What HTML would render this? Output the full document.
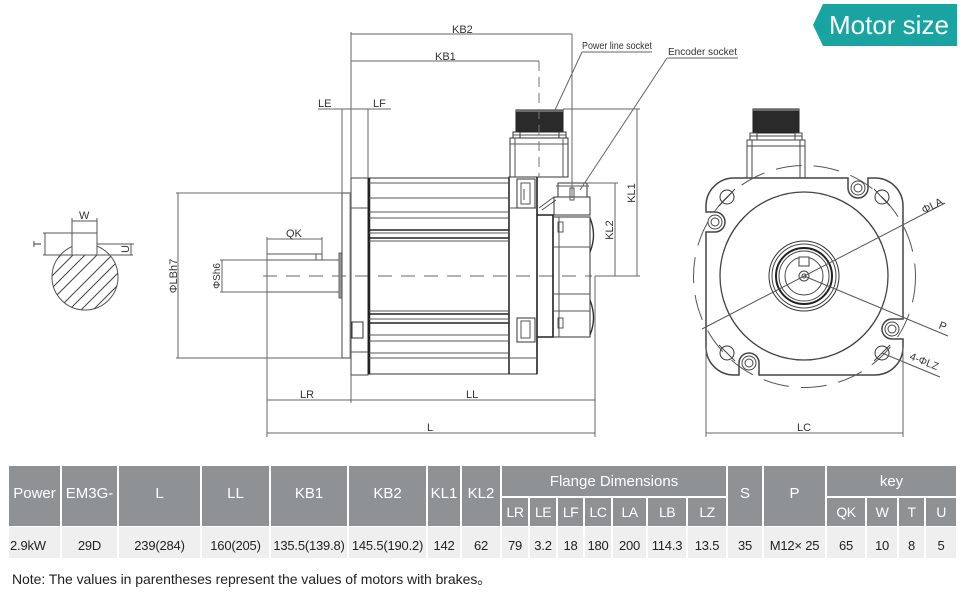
<!DOCTYPE html>
<html><head><meta charset="utf-8">
<style>
html,body{margin:0;padding:0;background:#fff;}
#wrap{position:relative;width:963px;height:602px;overflow:hidden;background:#fff;font-family:"Liberation Sans","Noto Sans CJK SC",sans-serif;}
svg{position:absolute;left:0;top:0;}
.c{position:absolute;display:flex;align-items:center;justify-content:center;box-sizing:border-box;white-space:nowrap;}
.h{background:#8f9295;color:#fff;font-size:15px;}
.h2{font-size:14px;letter-spacing:-0.5px;}
.d{background:#efefef;color:#222;font-size:13px;letter-spacing:-0.2px;padding-top:6px;}
.note{position:absolute;left:12px;top:569px;font-size:14px;color:#222;letter-spacing:-0.05px;white-space:nowrap;}
</style></head><body><div id="wrap">
<svg width="963" height="460" viewBox="0 0 963 460" xmlns="http://www.w3.org/2000/svg" font-family="Liberation Sans, sans-serif">
<!-- badge -->
<polygon points="823,4 957,4 957,46 823,46 813,25" fill="#19a4a2"/>
<text x="829" y="34" font-size="26" fill="#fff">Motor size</text>

<g stroke="#555" stroke-width="1" fill="none">
<!-- ===== key section ===== -->
<clipPath id="kc"><path d="M40,255 H140 V320 H40 Z"/></clipPath>
<clipPath id="hcirc"><circle cx="85" cy="277" r="33"/></clipPath>
<circle cx="85" cy="277" r="33"/>
<g clip-path="url(#kc)"><g clip-path="url(#hcirc)" stroke="#444">
 <line x1="40" y1="300" x2="110" y2="230"/>
 <line x1="40" y1="312" x2="120" y2="232"/>
 <line x1="45" y1="322" x2="130" y2="237"/>
 <line x1="55" y1="324" x2="135" y2="244"/>
 <line x1="67" y1="324" x2="140" y2="251"/>
 <line x1="79" y1="324" x2="145" y2="258"/>
 <line x1="91" y1="324" x2="150" y2="265"/>
 <line x1="40" y1="288" x2="100" y2="228"/>
 <line x1="40" y1="276" x2="90" y2="226"/>
</g></g>
<rect x="72" y="233" width="25" height="22" fill="#fff"/>
<line x1="72" y1="218" x2="72" y2="233"/>
<line x1="97" y1="218" x2="97" y2="233"/>
<line x1="72" y1="221" x2="97" y2="221"/>
<line x1="43" y1="233" x2="72" y2="233"/>
<line x1="43" y1="255" x2="133" y2="255"/>
<line x1="45" y1="233" x2="45" y2="255"/>
<line x1="97" y1="244" x2="134" y2="244"/>
<line x1="131" y1="244" x2="131" y2="255"/>
</g>
<g font-size="11" fill="#333">
<text x="79" y="219">W</text>
<text transform="translate(41,244) rotate(-90)" text-anchor="middle">T</text>
<text transform="translate(129,249) rotate(-90)" text-anchor="middle">U</text>
</g>

<!-- ===== side view ===== -->
<g stroke="#555" stroke-width="1" fill="none">
<line x1="263" y1="276" x2="592" y2="276" stroke-dasharray="14,9" stroke="#666"/>
<path d="M267,260 H340 M267,292 H340 M267,260 V292"/>
<path d="M267,254 H322 V260 M316,254 V260"/>
<rect x="339" y="253" width="3" height="45" fill="#999" stroke="#666"/>
<rect x="342" y="193" width="9" height="165" stroke="#444"/>
<line x1="350" y1="193" x2="350" y2="358" stroke="#888"/>
<rect x="351" y="178" width="17" height="197" stroke="#444"/>
<line x1="351" y1="208" x2="368" y2="208"/>
<line x1="351" y1="352" x2="368" y2="352"/>
<rect x="352" y="322" width="11" height="16" stroke="#333"/>
<rect x="368" y="178" width="141" height="196" stroke="#333"/>
<line x1="369" y1="178" x2="369" y2="374" stroke="#222" stroke-width="2.5"/>
<line x1="509" y1="177" x2="509" y2="374" stroke="#222" stroke-width="1.6"/>
<g stroke="#555">
<line x1="369" y1="183" x2="509" y2="183"/>
<line x1="369" y1="198" x2="509" y2="198"/>
<line x1="369" y1="212" x2="509" y2="212"/>
<line x1="369" y1="218" x2="509" y2="218"/>
<line x1="369" y1="230" x2="509" y2="230" stroke="#222" stroke-width="1.6"/>
<line x1="369" y1="233" x2="509" y2="233"/>
<line x1="369" y1="238" x2="509" y2="238" stroke="#222" stroke-width="1.6"/>
<line x1="369" y1="241" x2="509" y2="241"/>
<line x1="369" y1="311" x2="509" y2="311"/>
<line x1="369" y1="314" x2="509" y2="314" stroke="#222" stroke-width="1.6"/>
<line x1="369" y1="319" x2="509" y2="319"/>
<line x1="369" y1="323" x2="509" y2="323" stroke="#222" stroke-width="1.6"/>
<line x1="369" y1="335" x2="509" y2="335"/>
<line x1="369" y1="341" x2="509" y2="341"/>
<line x1="369" y1="353" x2="509" y2="353"/>
<line x1="369" y1="358" x2="509" y2="358"/>
</g>
<rect x="509" y="177" width="28" height="197" stroke="#333"/>
<line x1="537" y1="177" x2="537" y2="374" stroke="#222" stroke-width="1.6"/>
<line x1="509" y1="208" x2="537" y2="208"/>
<line x1="509" y1="358" x2="537" y2="358"/>
<rect x="517" y="179" width="18" height="29" stroke="#333"/>
<rect x="521" y="183" width="9" height="21"/>
<line x1="524" y1="189" x2="524" y2="200"/>
<rect x="517" y="318" width="18" height="24" stroke="#333"/>
<rect x="521" y="321" width="9" height="17"/>
<path d="M537,215 H553 V337 H537" stroke="#222" stroke-width="1.6"/>
<path d="M553,217 H590 V337 H553" stroke="#333"/>
<line x1="559" y1="217" x2="559" y2="337"/>
<line x1="553" y1="247" x2="590" y2="247"/>
<line x1="553" y1="294" x2="590" y2="294"/>
<line x1="553" y1="311" x2="590" y2="311"/>
<rect x="558" y="222" width="5" height="10"/>
<rect x="558" y="318" width="5" height="10"/>
<path d="M590,218 Q597,235 590,252" stroke="#333" stroke-width="1.4"/>
<path d="M590,300 Q597,318 590,335" stroke="#333" stroke-width="1.4"/>
<path d="M539,208 L554,197 M542,210 L556,200"/>
<rect x="554" y="197" width="36" height="18" stroke="#333"/>
<rect x="558" y="183" width="29" height="14" stroke="#333"/>
<line x1="556" y1="186" x2="589" y2="186"/>
<rect x="570" y="188" width="4" height="12"/>
<rect x="516" y="110" width="47" height="22" fill="#2a2a2a" stroke="#222"/>
<line x1="516" y1="111" x2="563" y2="111" stroke="#aaa"/>
<rect x="513" y="132" width="7" height="6" stroke="#333"/>
<rect x="559" y="132" width="7" height="6" stroke="#333"/>
<line x1="513" y1="135" x2="566" y2="135"/>
<rect x="510" y="138" width="58" height="39" stroke="#333"/>
<line x1="510" y1="144" x2="568" y2="144"/>
<line x1="515" y1="138" x2="515" y2="177"/>
<line x1="563" y1="138" x2="563" y2="177"/>
<line x1="539" y1="61" x2="539" y2="178" stroke-dasharray="10,6" stroke="#777"/>

<g stroke="#666">
<line x1="351" y1="32" x2="351" y2="178"/>
<line x1="351" y1="34" x2="572" y2="34"/>
<line x1="572" y1="34" x2="572" y2="198"/>
<line x1="351" y1="61" x2="539" y2="61"/>
<line x1="318" y1="109" x2="391" y2="109"/>
<line x1="342" y1="109" x2="342" y2="193"/>
<line x1="368" y1="109" x2="368" y2="178"/>
<line x1="176" y1="193" x2="342" y2="193"/>
<line x1="176" y1="358" x2="342" y2="358"/>
<line x1="178" y1="193" x2="178" y2="358"/>
<line x1="220" y1="260" x2="267" y2="260"/>
<line x1="220" y1="292" x2="267" y2="292"/>
<line x1="222" y1="260" x2="222" y2="292"/>
<line x1="267" y1="237" x2="267" y2="437"/>
<line x1="322" y1="237" x2="322" y2="254"/>
<line x1="267" y1="239" x2="322" y2="239"/>
<line x1="351" y1="375" x2="351" y2="403"/>
<line x1="267" y1="400" x2="595" y2="400"/>
<line x1="595" y1="276" x2="595" y2="437"/>
<line x1="267" y1="433" x2="595" y2="433"/>
<line x1="563" y1="109" x2="640" y2="109"/>
<line x1="595" y1="276" x2="640" y2="276"/>
<line x1="637" y1="109" x2="637" y2="276"/>
<line x1="587" y1="183" x2="618" y2="183"/>
<line x1="615" y1="183" x2="615" y2="276"/>
<line x1="582" y1="52" x2="652" y2="52"/>
<line x1="582" y1="52" x2="555" y2="110"/>
<line x1="667" y1="58" x2="738" y2="58"/>
<line x1="667" y1="58" x2="580" y2="190"/>
</g>
</g>
<g font-size="11" fill="#333">
<text x="452" y="33">KB2</text>
<text x="435" y="60">KB1</text>
<text x="318" y="107">LE</text>
<text x="373" y="107">LF</text>
<text x="286" y="237">QK</text>
<text x="300" y="398">LR</text>
<text x="466" y="398">LL</text>
<text x="427" y="431">L</text>
<text transform="translate(177,276) rotate(-90)" text-anchor="middle">ΦLBh7</text>
<text transform="translate(220,276) rotate(-90)" text-anchor="middle" font-size="10">ΦSh6</text>
<text transform="translate(635,193) rotate(-90)" text-anchor="middle">KL1</text>
<text transform="translate(613,230) rotate(-90)" text-anchor="middle">KL2</text>
<text x="582" y="49" font-size="10" textLength="70" lengthAdjust="spacingAndGlyphs">Power line socket</text>
<text x="668" y="55" font-size="10" textLength="69" lengthAdjust="spacingAndGlyphs">Encoder socket</text>
</g>

<!-- ===== front view ===== -->
<g stroke="#444" stroke-width="1" fill="none">
<rect x="753" y="109" width="46" height="24" fill="#2a2a2a" stroke="#222"/>
<line x1="753" y1="110" x2="799" y2="110" stroke="#aaa"/>
<rect x="750" y="133" width="7" height="7"/>
<rect x="795" y="133" width="7" height="7"/>
<line x1="750" y1="136" x2="802" y2="136"/>
<rect x="747" y="140" width="58" height="38"/>
<line x1="747" y1="146" x2="805" y2="146"/>
<line x1="752" y1="140" x2="752" y2="178"/>
<line x1="800" y1="140" x2="800" y2="178"/>
<path d="M734,178 H848 V188 A10,10 0 0 0 868,188 V178 H875 A28,28 0 0 1 903,206 V319 H892 A10,10 0 0 0 892,339 H903 V347 A28,28 0 0 1 875,375 H759 V363 A10,10 0 0 0 739,363 V375 H734 A28,28 0 0 1 706,347 V232 H715 A10,10 0 0 0 715,212 H706 V206 A28,28 0 0 1 734,178 Z" stroke="#444" stroke-width="1.5" fill="#fff"/>
<circle cx="858" cy="188" r="7"/><circle cx="858" cy="188" r="4"/>
<circle cx="715" cy="222" r="7"/><circle cx="715" cy="222" r="4"/>
<circle cx="892" cy="329" r="7"/><circle cx="892" cy="329" r="4"/>
<circle cx="749" cy="363" r="7"/><circle cx="749" cy="363" r="4"/>
<circle cx="804.5" cy="276.5" r="111" stroke-dasharray="26,12" stroke="#555"/>
<circle cx="727" cy="197" r="7" stroke="#333"/>
<circle cx="882" cy="197" r="7" stroke="#333"/>
<circle cx="727" cy="353" r="7" stroke="#333"/>
<circle cx="882" cy="353" r="7" stroke="#333"/>
<line x1="719" y1="206" x2="735" y2="189"/>
<line x1="874" y1="189" x2="890" y2="206"/>
<line x1="719" y1="345" x2="735" y2="361"/>
<line x1="874" y1="361" x2="890" y2="345"/>
<circle cx="804" cy="276" r="84" stroke="#444" stroke-width="1.3"/>
<circle cx="804" cy="276" r="35" stroke="#333"/>
<circle cx="804" cy="276" r="32"/>
<circle cx="804" cy="276" r="28" stroke="#222" stroke-width="2"/>
<circle cx="804" cy="276" r="25"/>
<circle cx="804" cy="276" r="19"/>
<circle cx="804" cy="276" r="5"/>
<circle cx="804" cy="276" r="2"/>
<rect x="799" y="257" width="10" height="9" fill="#fff"/>
<line x1="702" y1="329" x2="945" y2="203" stroke="#555"/>
<line x1="804" y1="276" x2="948" y2="336" stroke="#555"/>
<line x1="882" y1="353" x2="940" y2="377" stroke="#555"/>
<line x1="706" y1="347" x2="706" y2="437" stroke="#666"/>
<line x1="903" y1="347" x2="903" y2="437" stroke="#666"/>
<line x1="706" y1="433" x2="903" y2="433" stroke="#666"/>
</g>
<g font-size="11" fill="#333">
<text transform="translate(924,214) rotate(-27)">ΦLA</text>
<text transform="translate(938,328) rotate(22)">P</text>
<text transform="translate(909,359) rotate(22)" font-size="10.5">4-ΦLZ</text>
<text x="797" y="431">LC</text>
</g>
</svg>

<!-- ===== table ===== -->
<div class="c h" style="left:9px;top:466px;width:51px;height:60px;padding-bottom:6px;">Power</div>
<div class="c h" style="left:62px;top:466px;width:55px;height:60px;padding-bottom:6px;">EM3G-</div>
<div class="c h" style="left:119px;top:466px;width:81px;height:60px;padding-bottom:6px;">L</div>
<div class="c h" style="left:202px;top:466px;width:67px;height:60px;padding-bottom:6px;">LL</div>
<div class="c h" style="left:271px;top:466px;width:76px;height:60px;padding-bottom:6px;">KB1</div>
<div class="c h" style="left:349px;top:466px;width:77px;height:60px;padding-bottom:6px;">KB2</div>
<div class="c h" style="left:428px;top:466px;width:32px;height:60px;padding-bottom:6px;">KL1</div>
<div class="c h" style="left:462px;top:466px;width:38px;height:60px;padding-bottom:6px;">KL2</div>
<div class="c h" style="left:502px;top:466px;width:224px;height:30px;">Flange Dimensions</div>
<div class="c h" style="left:728px;top:466px;width:34px;height:60px;padding-bottom:6px;">S</div>
<div class="c h" style="left:764px;top:466px;width:61px;height:60px;padding-bottom:6px;">P</div>
<div class="c h" style="left:827px;top:466px;width:129px;height:30px;">key</div>

<div class="c h h2" style="left:502px;top:498px;width:26px;height:28px;">LR</div>
<div class="c h h2" style="left:530px;top:498px;width:26px;height:28px;">LE</div>
<div class="c h h2" style="left:558px;top:498px;width:25px;height:28px;">LF</div>
<div class="c h h2" style="left:585px;top:498px;width:26px;height:28px;">LC</div>
<div class="c h h2" style="left:613px;top:498px;width:33px;height:28px;">LA</div>
<div class="c h h2" style="left:648px;top:498px;width:38px;height:28px;">LB</div>
<div class="c h h2" style="left:688px;top:498px;width:38px;height:28px;">LZ</div>
<div class="c h h2" style="left:827px;top:498px;width:38px;height:28px;">QK</div>
<div class="c h h2" style="left:867px;top:498px;width:30px;height:28px;">W</div>
<div class="c h h2" style="left:899px;top:498px;width:25px;height:28px;">T</div>
<div class="c h h2" style="left:926px;top:498px;width:30px;height:28px;">U</div>

<div class="c d" style="left:9px;top:527px;width:51px;height:31px;justify-content:flex-start;padding-left:1px;">2.9kW</div>
<div class="c d" style="left:62px;top:527px;width:55px;height:31px;">29D</div>
<div class="c d" style="left:119px;top:527px;width:81px;height:31px;">239(284)</div>
<div class="c d" style="left:202px;top:527px;width:67px;height:31px;">160(205)</div>
<div class="c d" style="left:271px;top:527px;width:76px;height:31px;">135.5(139.8)</div>
<div class="c d" style="left:349px;top:527px;width:77px;height:31px;">145.5(190.2)</div>
<div class="c d" style="left:428px;top:527px;width:32px;height:31px;">142</div>
<div class="c d" style="left:462px;top:527px;width:38px;height:31px;">62</div>
<div class="c d" style="left:502px;top:527px;width:26px;height:31px;">79</div>
<div class="c d" style="left:530px;top:527px;width:26px;height:31px;">3.2</div>
<div class="c d" style="left:558px;top:527px;width:25px;height:31px;">18</div>
<div class="c d" style="left:585px;top:527px;width:26px;height:31px;">180</div>
<div class="c d" style="left:613px;top:527px;width:33px;height:31px;">200</div>
<div class="c d" style="left:648px;top:527px;width:38px;height:31px;">114.3</div>
<div class="c d" style="left:688px;top:527px;width:38px;height:31px;">13.5</div>
<div class="c d" style="left:728px;top:527px;width:34px;height:31px;">35</div>
<div class="c d" style="left:764px;top:527px;width:61px;height:31px;">M12× 25</div>
<div class="c d" style="left:827px;top:527px;width:38px;height:31px;">65</div>
<div class="c d" style="left:867px;top:527px;width:30px;height:31px;">10</div>
<div class="c d" style="left:899px;top:527px;width:25px;height:31px;">8</div>
<div class="c d" style="left:926px;top:527px;width:30px;height:31px;">5</div>

<div class="note">Note: The values in parentheses represent the values of motors with brakes。</div>
</div></body></html>
